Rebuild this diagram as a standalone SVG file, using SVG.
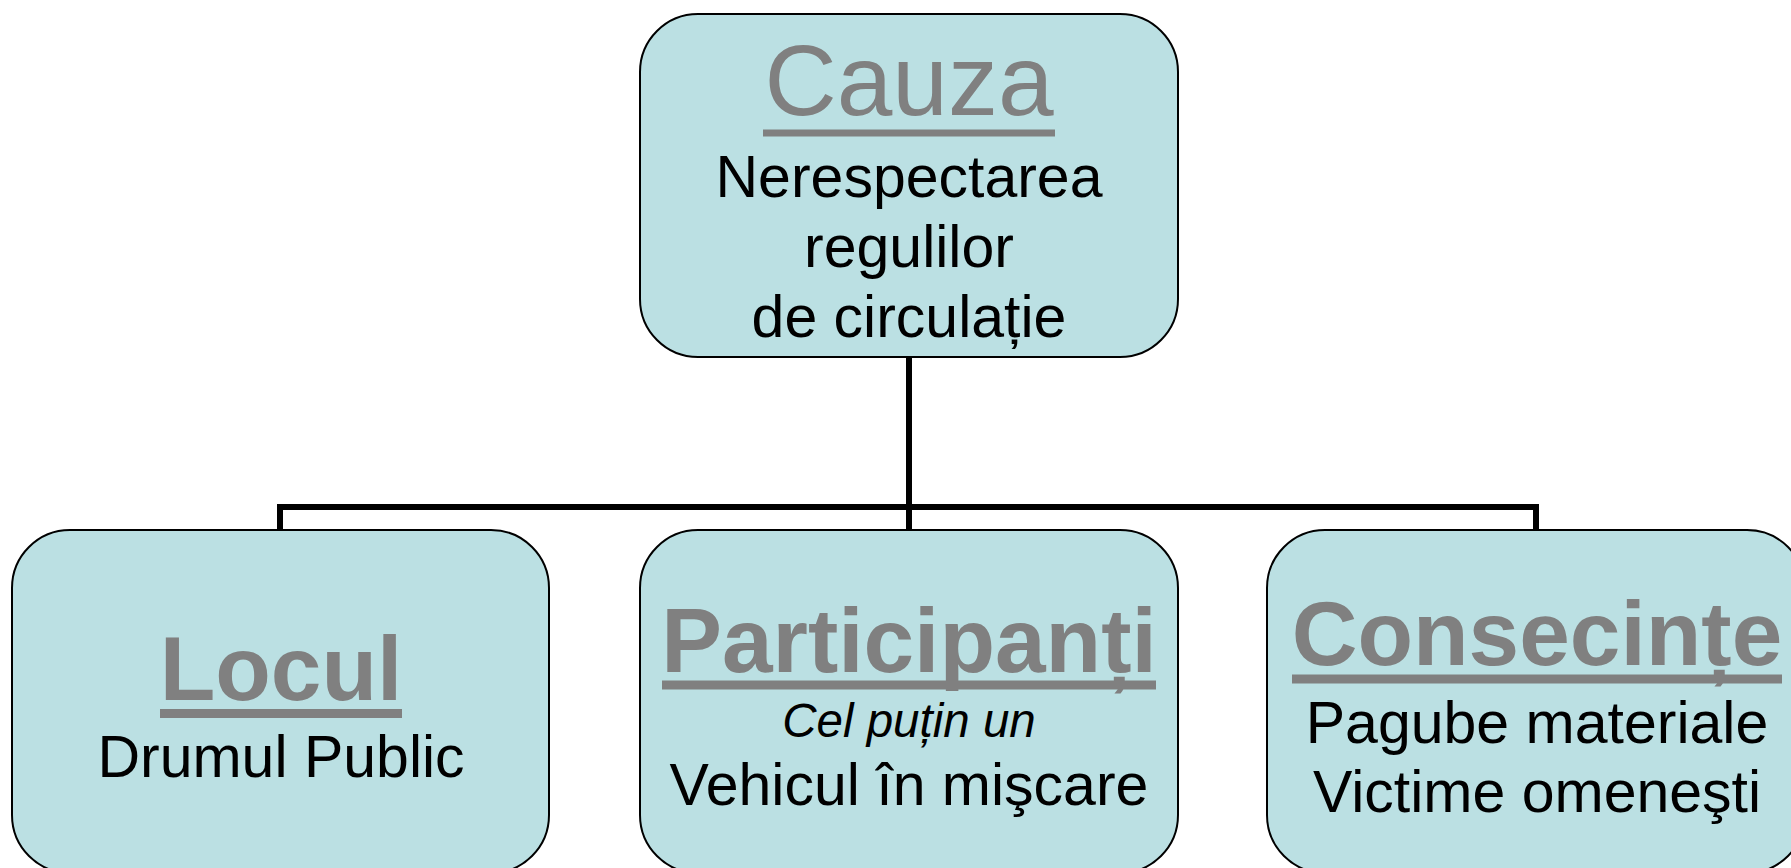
<svg xmlns="http://www.w3.org/2000/svg" width="1791" height="868" viewBox="0 0 1791 868">
<style>
.box{fill:#BBE0E3;stroke:#000;stroke-width:2}
.head{font-family:"Liberation Sans",Arial,sans-serif;fill:#808080;text-anchor:middle}
.hb{font-weight:bold;font-size:91px}
.ul{fill:#808080}
.body{font-family:"Liberation Sans",Arial,sans-serif;fill:#000;text-anchor:middle;font-size:59px}
.it{font-style:italic;font-size:47.5px}
.conn{fill:none;stroke:#000;stroke-width:6}
</style>
<rect width="1791" height="868" fill="#fff"/>
<g id="connectors">
<path class="conn" d="M909 357V507M280 530V507H1536V530M909 507V530"/>
</g>
<g id="cauza">
<rect class="box" x="640" y="14" width="538" height="343" rx="58" ry="58"/>
<text class="head" x="909" y="115" font-size="100">Cauza</text>
<rect class="ul" x="763" y="129.5" width="292" height="7"/>
<text class="body" x="909" y="197">Nerespectarea</text>
<text class="body" x="909" y="267">regulilor</text>
<text class="body" x="909" y="337">de circulație</text>
</g>
<g id="locul">
<rect class="box" x="12" y="530" width="537" height="343" rx="58" ry="58"/>
<text class="head hb" x="281" y="700">Locul</text>
<rect class="ul" x="160" y="709" width="242" height="9"/>
<text class="body" x="281" y="777">Drumul Public</text>
</g>
<g id="participanti">
<rect class="box" x="640" y="530" width="538" height="343" rx="58" ry="58"/>
<text class="head hb" x="909" y="672">Participanți</text>
<rect class="ul" x="662" y="680.5" width="494" height="9"/>
<text class="body it" x="909" y="737">Cel puțin un</text>
<text class="body" x="909" y="805">Vehicul în mişcare</text>
</g>
<g id="consecinte">
<rect class="box" x="1267" y="530" width="538" height="343" rx="58" ry="58"/>
<text class="head hb" x="1537" y="665">Consecințe</text>
<rect class="ul" x="1292" y="674.5" width="490" height="9"/>
<text class="body" x="1537" y="743">Pagube materiale</text>
<text class="body" x="1537" y="812">Victime omeneşti</text>
</g>
</svg>
